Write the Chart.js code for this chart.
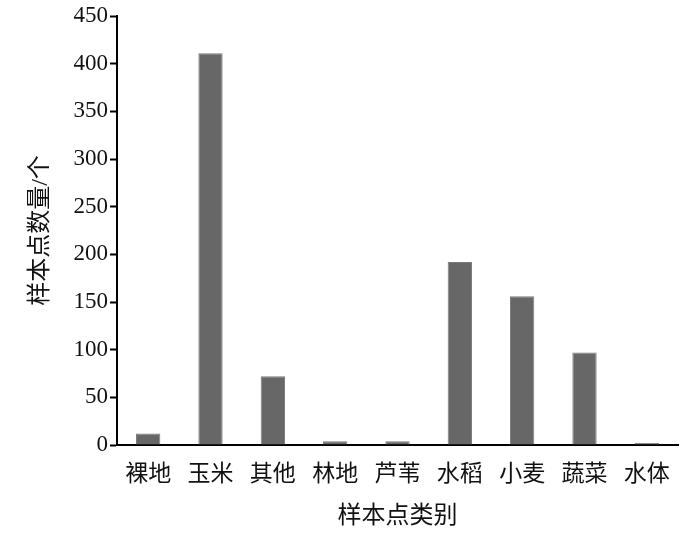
<!DOCTYPE html>
<html>
<head>
<meta charset="utf-8">
<script src="https://cdn.jsdelivr.net/npm/chart.js@4/dist/chart.umd.min.js"></script>
<style>
  html, body { margin: 0; padding: 0; background: #ffffff; }
  #wrap { width: 700px; height: 535px; }
</style>
</head>
<body>
<div id="wrap"><canvas id="c" width="700" height="535"></canvas></div>
<script>
const categories = ['裸地', '玉米', '其他', '林地', '芦苇', '水稻', '小麦', '蔬菜', '水体'];
const counts = [12, 411, 72, 4, 4, 192, 156, 97, 2];
const yMin = 0;
const yMax = 450;
const yStep = 50;
const xTitle = '样本点类别';
const yTitle = '样本点数量/个';

const FONT = "'Liberation Serif', 'Noto Sans CJK SC', serif";

new Chart(document.getElementById('c'), {
  type: 'bar',
  data: {
    labels: categories,
    datasets: [{
      data: counts,
      backgroundColor: '#676767',
      borderColor: '#7c7c7c',
      borderWidth: 1,
      categoryPercentage: 1.0,
      barPercentage: 0.39
    }]
  },
  options: {
    responsive: false,
    devicePixelRatio: 1,
    animation: false,
    layout: { padding: { left: 0, right: 22, top: 16, bottom: 0 } },
    plugins: { legend: { display: false }, tooltip: { enabled: false } },
    scales: {
      x: {
        grid: { display: true, drawOnChartArea: false, drawTicks: false },
        border: { display: true, color: '#000000', width: 2 },
        ticks: { color: '#111111', padding: 16, font: { family: FONT, size: 23 } },
        title: { display: true, text: xTitle, color: '#111111', padding: { top: 0, bottom: 4 },
                 font: { family: FONT, size: 24 } },
        afterFit: (s) => { s.height = 90; }
      },
      y: {
        min: yMin, max: yMax,
        ticks: { stepSize: yStep, color: '#111111', padding: 2, font: { family: FONT, size: 23 } },
        grid: { display: true, drawOnChartArea: false, drawTicks: true, tickLength: 7,
                tickColor: '#000000', tickWidth: 2 },
        border: { display: true, color: '#000000', width: 2 },
        title: { display: true, text: yTitle, color: '#111111', padding: { top: 26, bottom: 0 },
                 font: { family: FONT, size: 24 } },
        afterFit: (s) => { s.width = 117; }
      }
    }
  }
});
</script>
</body>
</html>
